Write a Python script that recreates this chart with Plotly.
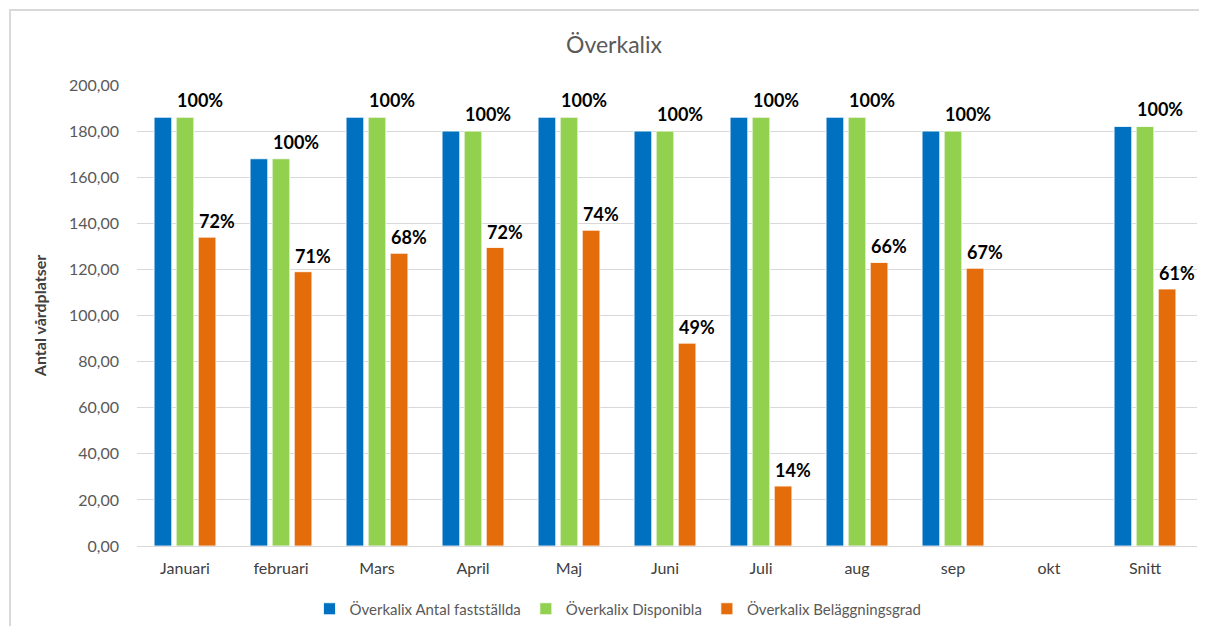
import plotly.graph_objects as go

categories = ["Januari", "februari", "Mars", "April", "Maj", "Juni", "Juli", "aug", "sep", "okt", "Snitt"]
faststallda = [186, 168, 186, 180, 186, 180, 186, 186, 180, None, 182]
disponibla = [186, 168, 186, 180, 186, 180, 186, 186, 180, None, 182]
belaggning = [134, 119, 127, 129.5, 137, 88, 26, 123, 120.5, None, 111.5]
disp_labels = ["100%", "100%", "100%", "100%", "100%", "100%", "100%", "100%", "100%", None, "100%"]
bel_labels = ["72%", "71%", "68%", "72%", "74%", "49%", "14%", "66%", "67%", None, "61%"]

names = ["Överkalix Antal fastställda", "Överkalix Disponibla", "Överkalix Beläggningsgrad"]
colors = ["#0070C0", "#92D050", "#E46C0A"]

FONT = "Lato, 'Open Sans', sans-serif"
fig = go.Figure()
for name, vals, col in zip(names, [faststallda, disponibla, belaggning], colors):
    fig.add_trace(go.Bar(x=categories, y=vals, name=name, marker_color=col,
                         marker_line_color="white", marker_line_width=0.8))

OFF = 8  # page body margin
W, H = 1207 - 2 * OFF, 634 - 2 * OFF
# target pixel positions in screenshot coords
PX_L, PX_R, PX_T, PX_B = 137, 1197, 85, 546
L, T = PX_L - OFF, PX_T - OFF
R = W - (PX_R - OFF)
B = H - (PX_B - OFF)
pw = W - L - R
ph = H - T - B


def px_x(px):
    return (px - PX_L) / pw


def px_y(py):
    return (PX_B - py) / ph


annotations = []
for c, v, t in zip(categories, disponibla, disp_labels):
    if v is None:
        continue
    annotations.append(dict(x=c, y=v, text=t, showarrow=False, xshift=15, yshift=4,
                            yanchor="bottom", font=dict(family=FONT, size=18, color="#000000", weight="bold")))
for c, v, t in zip(categories, belaggning, bel_labels):
    if v is None:
        continue
    annotations.append(dict(x=c, y=v, text=t, showarrow=False, xshift=32, yshift=3,
                            yanchor="bottom", font=dict(family=FONT, size=18, color="#000000", weight="bold")))

fig.update_layout(
    width=W, height=H,
    margin=dict(l=L, r=R, t=T, b=B, autoexpand=False),
    paper_bgcolor="white", plot_bgcolor="white",
    barmode="group", bargap=0.31, bargroupgap=0.2,
    title=dict(text="Överkalix", x=(614 - OFF) / W, xref="container", xanchor="center",
               y=1 - (45 - OFF) / H, yref="container", yanchor="middle",
               font=dict(family=FONT, size=23, color="#595959")),
    font=dict(family=FONT, color="#595959"),
    separators=",.",
    yaxis=dict(range=[0, 200], dtick=20, tickformat=".2f", showgrid=True, gridcolor="#d9d9d9",
               gridwidth=1, zeroline=False, showline=False, ticks="", automargin=False,
               tickfont=dict(family=FONT, size=16, color="#595959"), ticklabelstandoff=17,
               title=dict(text="Antal vårdplatser", standoff=18,
                          font=dict(family=FONT, size=16, color="#404040", weight="bold"))),
    xaxis=dict(showline=True, linecolor="#d9d9d9", linewidth=1, ticks="", automargin=False,
               tickfont=dict(family=FONT, size=16, color="#404040"), ticklabelstandoff=8),
    legend=dict(orientation="h", x=px_x(618), xanchor="center", y=px_y(609),
                yanchor="middle", font=dict(family=FONT, size=15, color="#595959"),
                itemwidth=30, tracegroupgap=0),
    annotations=annotations,
    shapes=[dict(type="rect", xref="paper", yref="paper",
                 x0=px_x(10), x1=px_x(1300),
                 y0=px_y(700), y1=px_y(10),
                 line=dict(color="#d9d9d9", width=2), fillcolor="rgba(0,0,0,0)", layer="below")],
)

fig.write_html("out.html")
